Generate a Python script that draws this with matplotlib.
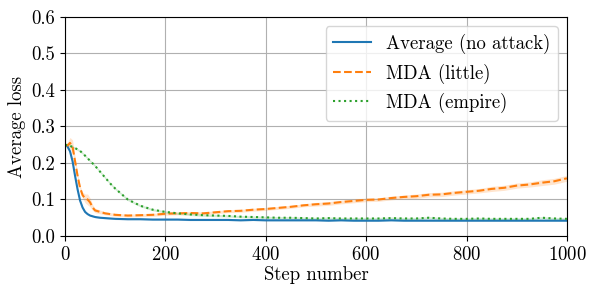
import matplotlib
matplotlib.use("Agg")
import matplotlib.pyplot as plt

plt.rcParams["font.family"] = "cmr10"
plt.rcParams["mathtext.fontset"] = "cm"
plt.rcParams["axes.unicode_minus"] = False
plt.rcParams["axes.formatter.use_mathtext"] = True
plt.rcParams["font.size"] = 13.5

steps = [0, 5, 10, 15, 20, 25, 30, 35, 40, 45, 50, 55, 60, 70, 80, 90,
         100, 125, 150, 175, 200, 225, 250, 275, 300, 325, 350, 375, 400,
         425, 450, 475, 500, 525, 550, 575, 600, 625, 650, 675, 700, 725,
         750, 775, 800, 825, 850, 875, 900, 925, 950, 975, 1000]

avg_loss = [0.250, 0.245, 0.232, 0.205, 0.165, 0.128, 0.097, 0.078, 0.066, 0.060,
            0.056, 0.054, 0.052, 0.050, 0.049, 0.048,
            0.047, 0.046, 0.046, 0.045, 0.045, 0.045, 0.044, 0.044, 0.044, 0.044,
            0.043, 0.044, 0.043, 0.043, 0.043, 0.043, 0.043, 0.042, 0.043, 0.042,
            0.042, 0.042, 0.043, 0.042, 0.042, 0.042, 0.042, 0.042, 0.042, 0.042,
            0.042, 0.042, 0.042, 0.042, 0.042, 0.042, 0.042]
avg_band = [0.002, 0.003, 0.004, 0.005, 0.005, 0.005, 0.004, 0.003, 0.003, 0.002,
            0.002, 0.002, 0.002, 0.002, 0.002, 0.002,
            0.002, 0.002, 0.002, 0.002, 0.002, 0.002, 0.002, 0.002, 0.002, 0.002,
            0.002, 0.002, 0.002, 0.002, 0.002, 0.002, 0.002, 0.002, 0.002, 0.002,
            0.002, 0.002, 0.002, 0.002, 0.002, 0.002, 0.002, 0.002, 0.002, 0.002,
            0.002, 0.002, 0.002, 0.002, 0.002, 0.002, 0.002]

little_loss = [0.250, 0.248, 0.255, 0.245, 0.205, 0.165, 0.132, 0.112, 0.103, 0.100,
               0.092, 0.078, 0.070, 0.066, 0.062, 0.060,
               0.058, 0.056, 0.057, 0.058, 0.061, 0.062, 0.063, 0.062, 0.065, 0.068,
               0.069, 0.072, 0.074, 0.077, 0.080, 0.084, 0.087, 0.089, 0.093, 0.096,
               0.099, 0.100, 0.104, 0.107, 0.109, 0.113, 0.114, 0.118, 0.121, 0.124,
               0.129, 0.132, 0.138, 0.141, 0.146, 0.150, 0.158]
little_band = [0.003, 0.008, 0.015, 0.018, 0.012, 0.008, 0.006, 0.008, 0.012, 0.015,
               0.012, 0.008, 0.006, 0.005, 0.004, 0.004,
               0.004, 0.004, 0.004, 0.004, 0.004, 0.004, 0.004, 0.004, 0.004, 0.004,
               0.004, 0.004, 0.004, 0.004, 0.004, 0.004, 0.005, 0.005, 0.005, 0.005,
               0.005, 0.005, 0.005, 0.005, 0.006, 0.006, 0.006, 0.006, 0.006, 0.006,
               0.007, 0.007, 0.007, 0.007, 0.008, 0.008, 0.008]

empire_loss = [0.250, 0.249, 0.247, 0.244, 0.241, 0.237, 0.233, 0.227, 0.220, 0.213,
               0.206, 0.199, 0.192, 0.176, 0.160, 0.144,
               0.130, 0.100, 0.083, 0.072, 0.066, 0.062, 0.059, 0.057, 0.056, 0.055,
               0.053, 0.052, 0.051, 0.050, 0.050, 0.049, 0.048, 0.049, 0.048, 0.048,
               0.048, 0.048, 0.049, 0.048, 0.048, 0.050, 0.048, 0.047, 0.047, 0.048,
               0.047, 0.047, 0.047, 0.047, 0.050, 0.048, 0.047]
empire_band = [0.002, 0.002, 0.003, 0.003, 0.003, 0.003, 0.003, 0.003, 0.003, 0.003,
               0.003, 0.003, 0.003, 0.003, 0.003, 0.003,
               0.003, 0.003, 0.003, 0.003, 0.003, 0.003, 0.003, 0.003, 0.003, 0.003,
               0.003, 0.003, 0.003, 0.003, 0.003, 0.003, 0.003, 0.003, 0.003, 0.003,
               0.003, 0.003, 0.003, 0.003, 0.003, 0.003, 0.003, 0.003, 0.003, 0.003,
               0.003, 0.003, 0.003, 0.003, 0.003, 0.003, 0.003]

series = [
    ("Average (no attack)", avg_loss, avg_band, "C0", "-"),
    ("MDA (little)", little_loss, little_band, "C1", "--"),
    ("MDA (empire)", empire_loss, empire_band, "C2", ":"),
]

fig = plt.figure(figsize=(5.98, 2.92), dpi=100)
ax = fig.add_axes([0.1087, 0.1918, 0.8393, 0.75])

for label, vals, band, color, ls in series:
    lo = [v - b for v, b in zip(vals, band)]
    hi = [v + b for v, b in zip(vals, band)]
    ax.fill_between(steps, lo, hi, color=color, alpha=0.2, linewidth=0)
    ax.plot(steps, vals, color=color, linestyle=ls, linewidth=1.5, label=label)

ax.set_xlim(0, 1000)
ax.set_ylim(0, 0.6)
ax.set_xticks([0, 200, 400, 600, 800, 1000])
ax.set_yticks([0.0, 0.1, 0.2, 0.3, 0.4, 0.5, 0.6])
ax.set_yticklabels(["0.0", "0.1", "0.2", "0.3", "0.4", "0.5", "0.6"])
ax.grid(True, color="#b0b0b0", linewidth=0.8)
ax.set_axisbelow(True)
ax.set_xlabel("Step number", labelpad=2)
ax.set_ylabel("Average loss")
ax.legend(loc="upper right")

fig.savefig("out.png", dpi=100)
